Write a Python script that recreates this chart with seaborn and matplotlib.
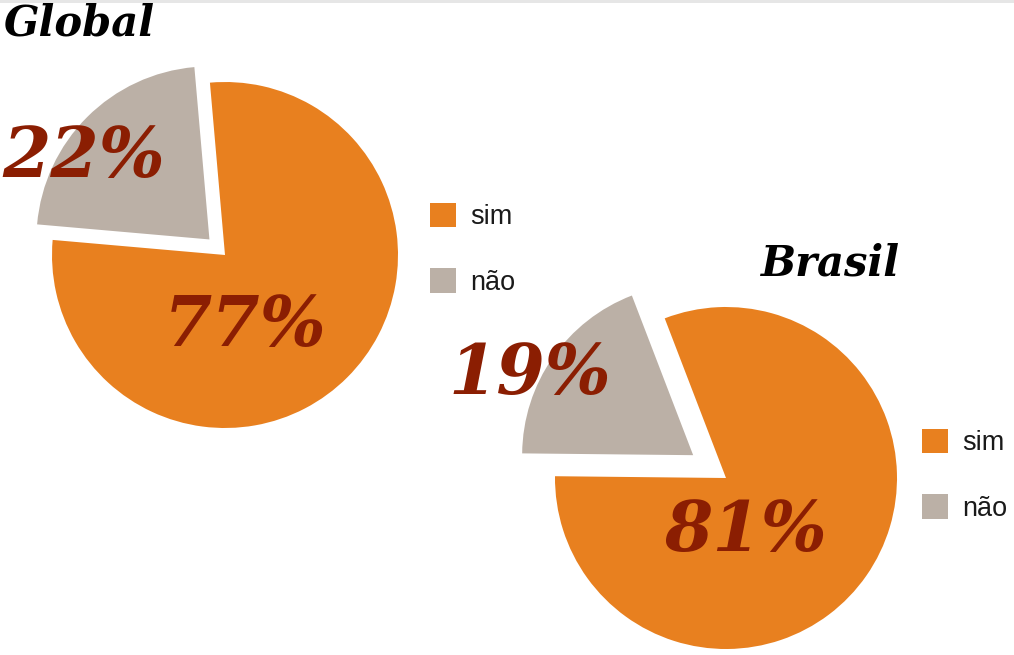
import matplotlib
matplotlib.use('Agg')
import matplotlib.pyplot as plt
import seaborn as sns

sns.set_theme(style='white')

# dados
categorias = ['sim', 'não']
global_vals = [77, 22]
brasil_vals = [81, 19]
titulos = ['Global', 'Brasil']

cores = ['#E8801F', '#BBB0A6']
cor_rotulo = '#8B1E02'
serif = ['DejaVu Serif']

W, H = 1014, 655
fig = plt.figure(figsize=(W / 100, H / 100), dpi=100)
ax = fig.add_axes([0, 0, 1, 1])

# faixa cinza no topo
ax.axhspan(H - 3, H, color='#E6E6E6', lw=0)

# pizza global (explode em pixels)
w1, _ = ax.pie(global_vals, colors=cores, startangle=95, counterclock=False,
               explode=[0, 22], center=(225, 400), radius=173,
               wedgeprops=dict(linewidth=0), frame=True)
# pizza brasil
w2, _ = ax.pie(brasil_vals, colors=cores, startangle=111, counterclock=False,
               explode=[0, 40], center=(726, 177), radius=171,
               wedgeprops=dict(linewidth=0), frame=True)
ax.set_xlim(0, W)
ax.set_ylim(0, H)
ax.set_aspect('equal')
ax.axis('off')

txt = dict(fontsize=50, fontweight='bold', fontstyle='italic', family=serif,
           color=cor_rotulo, ha='center', va='center')
ax.text(245, H - 327, f'{global_vals[0]}%', **txt)
ax.text(84, H - 158, f'{global_vals[1]}%', **txt)
ax.text(745, H - 532, f'{brasil_vals[0]}%', **txt)
ax.text(530, H - 375, f'{brasil_vals[1]}%', **txt)

tit = dict(fontsize=30, fontweight='bold', fontstyle='italic', family=serif,
           color='black', va='center')
ax.text(4, H - 24, titulos[0], ha='left', **tit)
ax.text(900, H - 264, titulos[1], ha='right', **tit)

# legendas
leg_kw = dict(frameon=False, prop={'family': 'Liberation Sans', 'size': 19.5},
              handlelength=0.95, handleheight=1.0, handletextpad=0.55,
              labelspacing=1.4, borderaxespad=0, borderpad=0,
              labelcolor='#1A1A1A')
leg1 = ax.legend(w1, categorias, loc='upper left',
                 bbox_to_anchor=(430 / W, 1 - 203 / H), **leg_kw)
ax.add_artist(leg1)
ax.legend(w2, categorias, loc='upper left',
          bbox_to_anchor=(922 / W, 1 - 429 / H), **leg_kw)

fig.savefig('out.png', dpi=100)
